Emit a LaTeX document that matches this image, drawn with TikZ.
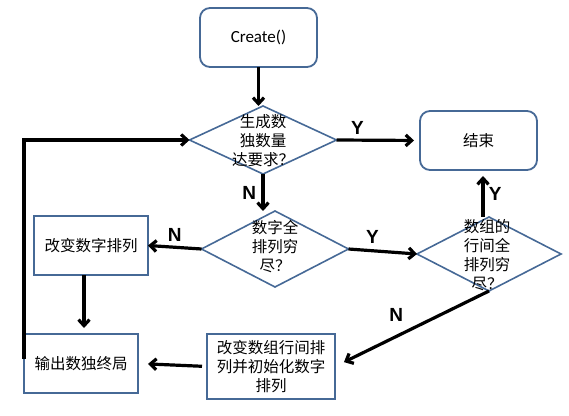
\documentclass[tikz,border=0pt]{standalone}
\usepackage{fontspec}
\setmainfont{Noto Sans CJK SC}
\newfontfamily\latinfont{Carlito}
\newfontfamily\etiqfont{Liberation Sans}
\usetikzlibrary{arrows.meta, calc, positioning, shapes.geometric}
\definecolor{azulBorde}{RGB}{70,105,150}

\begin{document}
\begin{tikzpicture}[x=1pt, y=1pt,
    caja/.style={draw=azulBorde, line width=1.8pt, minimum width=114pt, minimum height=59pt,
      inner sep=0pt, outer sep=0pt, align=center, font=\fontsize{15.5}{19}\selectfont},
    cajaRed/.style={caja, rounded corners=10pt, minimum width=117pt},
    rombo/.style={draw=azulBorde, line width=1.6pt, diamond, inner sep=0pt, outer sep=0pt},
    texto/.style={align=center, inner sep=0pt, font=\fontsize{15.5}{19}\selectfont},
    flecha/.style={-{Straight Barb[length=6pt, width=11pt]}, line width=3.2pt},
    etiq/.style={font=\etiqfont\bfseries\fontsize{19}{19}\selectfont}]

    % Marco del dibujo
    \useasboundingbox (0,0) rectangle (569,415);

    % Inicio y fin
    \node[cajaRed, font=\latinfont\fontsize{17}{18}\selectfont] (crear) at (258.5,377.5) {Create()};
    \node[cajaRed] (fin) at (478.5,274.5) {结束};

    % Rombos de decision (el texto va aparte, puede salirse del rombo)
    \node[rombo, minimum width=147pt, minimum height=68pt] (r1) at (263,275) {};
    \node[texto] (r1t) at (263,274) {生成数\\独数量\\达要求？};

    \node[rombo, minimum width=147pt, minimum height=76pt] (r2) at (275,166) {};
    \node[texto] (r2t) at (275,168) {数字全\\排列穷\\尽？};

    \node[rombo, minimum width=144pt, minimum height=74pt] (r3) at (489,161) {};
    \node[texto] (r3t) at (487,160) {数组的\\行间全\\排列穷\\尽？};

    % Cajas de proceso
    \node[caja] (perm) at (91,169.5) {改变数字排列};
    \node[caja, minimum width=128pt, minimum height=65pt] (reini) at (271,48.5)
      {改变数组行间排\\列并初始化数字\\排列};
    \node[caja] (salida) at (81,51.5) {输出数独终局};

    % Flechas principales
    \draw[flecha] (crear.south) -- (crear.south |- r1.north);
    \draw[flecha, shorten >=6pt] (r1.east) -- (fin.west)
      node[etiq, pos=0.25, above=1pt] {Y};
    \draw[flecha] (r1.south) -- (r1.south |- r2.north)
      node[etiq, midway, left=2pt] {N};
    \draw[flecha] (r2.west) -- (perm.east)
      node[etiq, midway, above=1pt] {N};
    \draw[flecha] (r2.east) -- (r3.west)
      node[etiq, pos=0.35, above=2pt] {Y};

    % Salida del tercer rombo hacia arriba (Y) y hacia abajo (N)
    \coordinate (c3) at ($(r3.north)+(-6,0)$);
    \draw[flecha, shorten >=6pt] (c3) -- (c3 |- fin.south)
      node[etiq, midway, right=1pt] {Y};
    \draw[flecha, shorten >=10pt] (r3.south) -- (reini.east)
      node[etiq, midway, above left=2pt and 4pt] {N};

    % Flechas de la parte baja
    \draw[flecha, shorten <=5pt, shorten >=10pt] (reini.west) -- (salida.east);
    \coordinate (c2) at ($(perm.south)+(-7,0)$);
    \draw[flecha, shorten >=6pt] (c2) -- (c2 |- salida.north);

    % Retorno al primer rombo
    \draw[flecha] ([yshift=5pt]salida.west) |- (r1.west);
\end{tikzpicture}
\end{document}
